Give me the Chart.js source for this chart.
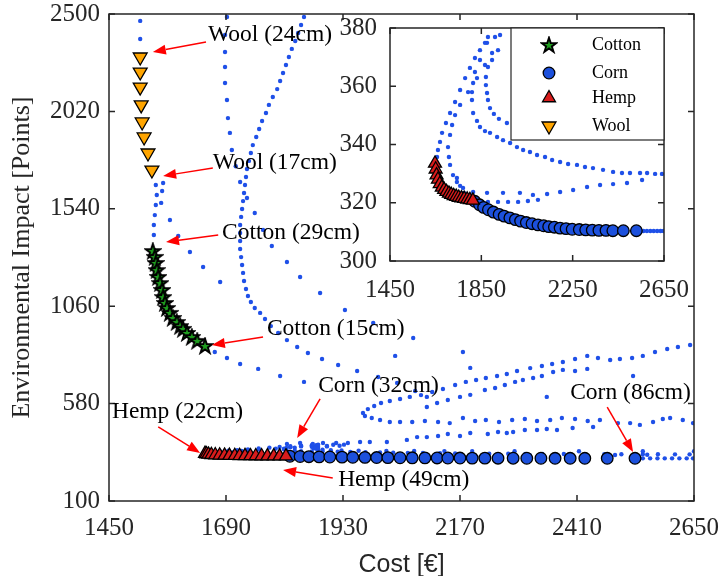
<!DOCTYPE html>
<html>
<head>
<meta charset="utf-8">
<script src="https://cdn.jsdelivr.net/npm/chart.js@4.4.0/dist/chart.umd.min.js"></script>
<style>
  html, body { margin: 0; padding: 0; background: #fff; }
  #quadro { position: relative; width: 725px; height: 576px; }
  #quadro canvas { position: absolute; left: 0; top: 0; }
</style>
</head>
<body>
<div id="quadro">
  <canvas id="grafico" width="725" height="576"></canvas>
  <canvas id="detalhe" width="725" height="576"></canvas>
</div>
<script>
// ticks dos eixos
const custoTicks = [1450, 1690, 1930, 2170, 2410, 2650];
const impactoTicks = [100, 580, 1060, 1540, 2020, 2500];
const custoTicksDetalhe = [1450, 1850, 2250, 2650];
const impactoTicksDetalhe = [300, 320, 340, 360, 380];

// melhores soluções por material [custo, impacto]
const cotton = [[1540,1332],[1544,1303],[1546,1273],[1548,1238],[1551,1204],[1555,1174],[1559,1140],[1561,1105],
  [1565,1076],[1569,1051],[1575,1027],[1581,1002],[1589,982],[1596,962],[1602,948],[1610,928],[1620,908],[1631,889],[1647,864]];
const corn = [[1821,320.5],[1842,319.3],[1860,318.4],[1881,317.6],[1903,316.8],[1928,316.0],[1950,315.4],[1975,314.8],
  [1999,314.2],[2022,313.7],[2047,313.2],[2072,312.8],[2098,312.4],[2123,312.1],[2145,311.8],[2170,311.6],[2195,311.3],
  [2221,311.1],[2248,310.9],[2279,310.8],[2307,310.7],[2336,310.6],[2365,310.5],[2396,310.5],[2426,310.4],[2472,310.4],[2529,310.4]];
const hemp = [[1647,333.5],[1650,331.5],[1654,329.5],[1660,328],[1668,326.5],[1677,325.3],[1687,324.5],[1697,323.8],
  [1708,323.2],[1718,322.8],[1729,322.4],[1740,322.1],[1751,321.8],[1763,321.6],[1775,321.4],[1788,321.2],[1800,321.0],[1813,320.8]];
const wool = [[1514,2288],[1514,2214],[1514,2140],[1516,2052],[1518,1968],[1522,1894],[1530,1815],[1538,1731]];

// demais soluções (pontos azuis)
const frenteLa = [[1514,2466],[1514,2377],[1546,1657],[1548,1608],[1546,1559],[1544,1509],[1542,1460],[1542,1411],
  [1667,834],[1692,805],[1719,775],[1756,751],[1801,716],[1850,687]];
const ramoLa = [[1561,1667],[1559,1628],[1557,1569],[1575,1485],[1592,1406],[1616,1327],[1643,1253],[1678,1179]];
const ramoEsparso = [[1692,2485],[1688,2397],[1688,2313],[1688,2239],[1688,2160],[1692,2076],[1694,1987],[1698,1914],
  [1702,1830],[1710,1750],[1719,1672],[1733,1593],[1749,1519],[1766,1436],[1784,1357],[1815,1278],[1842,1204],
  [1883,1125],[1934,1041],[1992,977],[2074,903],[2176,834]];
const avulsos = [[2037,815],[2191,756],[2348,613],[2525,716]];
const frenteAlgodao = [[1850,2485],[1844,2446],[1838,2406],[1832,2367],[1825,2328],[1819,2288],[1813,2249],[1807,2209],
  [1801,2170],[1795,2130],[1786,2091],[1778,2052],[1772,2012],[1764,1973],[1758,1933],[1752,1894],[1745,1854],
  [1741,1815],[1737,1776],[1733,1736],[1731,1697],[1729,1657],[1727,1618],[1725,1578],[1723,1539],[1721,1500],
  [1719,1460],[1719,1421],[1719,1381],[1719,1342],[1721,1302],[1723,1263],[1725,1224],[1727,1184],[1731,1145],
  [1735,1110],[1741,1081],[1749,1051],[1760,1027],[1770,997],[1782,962],[1797,928],[1815,893],[1836,859],
  [1858,829],[1887,800],[1920,770],[1959,741],[2002,711],[2041,682],[2078,642],[2102,613]];
const ramoAlto = [[1971,534],[1981,553],[1994,568],[2008,583],[2026,593],[2047,603],[2067,613],[2090,622],[2113,637],
  [2135,652],[2160,672],[2182,687],[2203,696],[2223,706],[2246,716],[2266,726],[2287,741],[2314,755],[2338,765],
  [2359,775],[2381,785],[2406,800],[2431,815],[2453,805],[2478,795],[2498,800],[2523,805],[2545,815],[2570,834],
  [2595,849],[2617,859],[2642,869]];
const ramoMedio = [[2102,563],[2123,583],[2145,598],[2170,613],[2191,623],[2221,647],[2242,657],[2262,672],[2283,687],
  [2299,696],[2320,706],[2338,716],[2361,736],[2381,746],[2406,741],[2431,751]];
const faixa500 = [[1975,519],[1989,509],[2006,499],[2026,489],[2047,489],[2072,489],[2098,494],[2125,489],[2149,484],
  [2176,509],[2201,494],[2223,499],[2250,489],[2277,499],[2303,504],[2328,494],[2355,499],[2379,509],[2406,504],
  [2432,494],[2457,499],[2494,484],[2519,484],[2539,475],[2566,489],[2586,504],[2601,509],[2627,499],[2648,484]];
const faixa440 = [[2102,415],[2125,420],[2145,430],[2170,420],[2191,435],[2227,430],[2248,440],[2266,435],[2279,440],
  [2303,450],[2328,450],[2348,455],[2369,450],[2401,460],[2443,465]];
const faixa390 = [[1815,381],[1842,386],[1868,381],[1889,386],[1916,386],[1940,386],[1965,391],[1985,391],[2020,391],
  [2061,401],[2082,415]];
const frenteCanhamo = [[1879,376.9],[1866,374.9],[1844,372.4],[1822,369.7],[1800,366.3],[1779,362.8],[1757,358.7],
  [1735,354.6],[1713,350.8],[1695,347.4],[1678,344.0],[1669,340.9],[1660,338.1],[1656,335.7],
  [2545,310.3],[2560,310.3],[2575,310.3],[2590,310.3],[2605,310.3],[2620,310.3],[2635,310.3],[2648,310.3]];
const curvaB = [[1910,376.9],[1897,371.4],[1866,367.3],[1831,362.8],[1792,358.0],[1757,353.6],[1735,350.1],[1722,346.7],
  [1713,343.3],[1704,339.1],[1708,335.7],[1713,333.0],[1726,329.5],[1743,327.1],[1770,325.1],[1814,323.7],[1875,323.4],
  [1945,323.4],[2019,323.4],[2076,322.7],[2138,323.0],[2195,323.7],[2252,324.4],[2313,325.4],[2370,326.1],[2427,326.4],
  [2488,326.8],[2554,327.8]];
const curvaE = [[1743,328.5],[1757,325.8],[1774,323.4],[1800,321.6],[1835,321.0],[1879,320.3],[1923,320.3],[1967,320.3],
  [2011,320.3],[2054,320.6],[2098,321.0]];
const curvaC = [[1932,377.6],[1923,372.4],[1897,369.0],[1879,366.6],[1870,363.2],[1870,360.4],[1875,357.7],[1879,355.3],
  [1888,352.5],[1905,350.5],[1927,348.8],[1962,347.4],[2019,346.7],[2076,346.4],[2138,346.0],[2195,346.0],[2282,345.7],
  [2414,345.3],[2545,345.0],[2650,345.0]];
const curvaD = [[1875,374.9],[1844,369.0],[1822,364.9],[1814,361.1],[1809,358.0],[1809,355.3],[1814,350.8],[1831,348.1],
  [1844,346.0],[1866,344.6],[1888,344.0],[1919,342.6],[1945,341.5],[1976,340.5],[2006,339.1],[2033,338.1],[2063,337.4],
  [2094,336.4],[2129,335.7],[2160,334.7],[2195,334.0],[2230,333.3],[2269,333.0],[2304,332.3],[2339,331.9],[2383,331.3],
  [2427,330.6],[2466,330.2],[2501,330.2],[2545,330.2],[2576,330.2],[2611,329.9],[2641,329.9]];

// rótulos com seta: texto em [custo, impacto], seta de -> para
const notas = [
  { texto: 'Wool (24cm)', em: [1653, 2397], de: [1649, 2362], para: [1540, 2313] },
  { texto: 'Wool (17cm)', em: [1663, 1766], de: [1663, 1741], para: [1561, 1702] },
  { texto: 'Cotton (29cm)', em: [1682, 1421], de: [1674, 1411], para: [1567, 1376] },
  { texto: 'Cotton (15cm)', em: [1774, 948], de: [1766, 908], para: [1661, 869] },
  { texto: 'Corn (32cm)', em: [1879, 667], de: [1883, 603], para: [1836, 411] },
  { texto: 'Corn (86cm)', em: [2396, 632], de: [2472, 563], para: [2525, 342] },
  { texto: 'Hemp (22cm)', em: [1456, 539], de: [1551, 465], para: [1637, 337] },
  { texto: 'Hemp (49cm)', em: [1920, 203], de: [1909, 213], para: [1807, 253] },
];
const legendaItens = ['Cotton', 'Corn', 'Hemp', 'Wool'];

const pts = lista => lista.map(([x, y]) => ({ x, y }));

function estrela() {
  const c = document.createElement('canvas');
  c.width = 18; c.height = 18;
  const g = c.getContext('2d');
  g.beginPath();
  for (let i = 0; i < 10; i++) {
    const r = i % 2 ? 3.0 : 7.8;
    const a = -Math.PI / 2 + i * Math.PI / 5;
    g.lineTo(9 + r * Math.cos(a), 9.5 + r * Math.sin(a));
  }
  g.closePath();
  g.fillStyle = '#1f9e1f';
  g.fill();
  g.lineWidth = 1.9;
  g.strokeStyle = '#000';
  g.stroke();
  return c;
}
const imgEstrela = estrela();

function nuvem(dados) {
  return { label: '', data: pts(dados), pointStyle: 'circle', pointRadius: 2.2, pointBackgroundColor: '#1f50e8',
    pointBorderWidth: 0, pointHoverRadius: 2.2, order: 5 };
}
function marcador(label, dados, estilo, cor, raio, rot) {
  return { label, data: pts(dados), pointStyle: estilo, pointRadius: raio, pointRotation: rot, pointBackgroundColor: cor,
    pointBorderColor: '#000', pointBorderWidth: 1.3, pointHoverRadius: raio, order: 1 };
}
function conjuntos() {
  return [
    marcador('Cotton', cotton, imgEstrela, '#1f9e1f', 7, 0),
    marcador('Hemp', hemp, 'triangle', '#d81c1c', 7.5, 0),
    marcador('Corn', corn, 'circle', '#1c50dc', 5.8, 0),
    marcador('Wool', wool, 'triangle', '#ffa500', 8, 180),
    ...[frenteLa, ramoLa, ramoEsparso, avulsos, frenteAlgodao, ramoAlto, ramoMedio, faixa500, faixa440, faixa390,
      frenteCanhamo, curvaB, curvaE, curvaC, curvaD].map(nuvem),
  ];
}

const moldura = {
  id: 'moldura',
  afterDatasetsDraw(chart) {
    const { ctx, chartArea: a, scales: { x, y } } = chart;
    ctx.save();
    ctx.strokeStyle = '#262626';
    ctx.lineWidth = 1.5;
    ctx.beginPath();
    x.ticks.forEach(t => {
      const px = x.getPixelForValue(t.value);
      ctx.moveTo(px, a.bottom); ctx.lineTo(px, a.bottom - 6);
      ctx.moveTo(px, a.top); ctx.lineTo(px, a.top + 6);
    });
    y.ticks.forEach(t => {
      const py = y.getPixelForValue(t.value);
      ctx.moveTo(a.left, py); ctx.lineTo(a.left + 6, py);
      ctx.moveTo(a.right, py); ctx.lineTo(a.right - 6, py);
    });
    ctx.stroke();
    ctx.strokeRect(a.left, a.top, a.right - a.left, a.bottom - a.top);
    ctx.restore();
  }
};

const anotacoes = {
  id: 'anotacoes',
  afterDatasetsDraw(chart) {
    const { ctx, scales: { x, y } } = chart;
    ctx.save();
    notas.forEach(n => {
      const x0 = x.getPixelForValue(n.de[0]), y0 = y.getPixelForValue(n.de[1]);
      const x1 = x.getPixelForValue(n.para[0]), y1 = y.getPixelForValue(n.para[1]);
      const ang = Math.atan2(y1 - y0, x1 - x0);
      const ponta = 13, meia = 5;
      const bx = x1 - ponta * Math.cos(ang), by = y1 - ponta * Math.sin(ang);
      ctx.strokeStyle = '#ff0000';
      ctx.fillStyle = '#ff0000';
      ctx.lineWidth = 1.5;
      ctx.beginPath();
      ctx.moveTo(x0, y0);
      ctx.lineTo(bx, by);
      ctx.stroke();
      ctx.beginPath();
      ctx.moveTo(x1, y1);
      ctx.lineTo(bx + meia * Math.sin(ang), by - meia * Math.cos(ang));
      ctx.lineTo(bx - meia * Math.sin(ang), by + meia * Math.cos(ang));
      ctx.closePath();
      ctx.fill();
      ctx.fillStyle = '#000';
      ctx.font = '23.5px "Liberation Serif"';
      ctx.textAlign = 'left';
      ctx.textBaseline = 'middle';
      ctx.fillText(n.texto, x.getPixelForValue(n.em[0]), y.getPixelForValue(n.em[1]));
    });
    ctx.restore();
  }
};

const fundoBranco = {
  id: 'fundoBranco',
  beforeDatasetsDraw(chart) {
    const { ctx, chartArea: a } = chart;
    ctx.save();
    ctx.fillStyle = '#fff';
    ctx.fillRect(a.left, a.top, a.right - a.left, a.bottom - a.top);
    ctx.restore();
  }
};

const legenda = {
  id: 'legenda',
  afterDraw(chart) {
    const { ctx, chartArea: a } = chart;
    const esq = a.right - 153, topo = a.top, alt = 112;
    ctx.save();
    ctx.fillStyle = '#fff';
    ctx.fillRect(esq, topo, a.right - esq, alt);
    ctx.strokeStyle = '#262626';
    ctx.lineWidth = 1.2;
    ctx.strokeRect(esq, topo, a.right - esq, alt);
    const linhas = [17, 45, 70, 98];
    legendaItens.forEach((nome, i) => {
      const ds = chart.data.datasets.find(d => d.label === nome);
      const yy = topo + linhas[i];
      ctx.fillStyle = ds.pointBackgroundColor;
      ctx.strokeStyle = ds.pointBorderColor;
      ctx.lineWidth = ds.pointBorderWidth;
      Chart.helpers.drawPoint(ctx, { pointStyle: ds.pointStyle, rotation: ds.pointRotation, radius: ds.pointRadius,
        borderWidth: ds.pointBorderWidth }, esq + 38, yy);
      ctx.fillStyle = '#000';
      ctx.font = '18px "Liberation Serif"';
      ctx.textAlign = 'left';
      ctx.textBaseline = 'middle';
      ctx.fillText(nome, esq + 81, yy);
    });
    ctx.restore();
  }
};

Chart.defaults.font.family = '"Liberation Serif"';
Chart.defaults.color = '#262626';

// o afastamento dos rótulos vem do tickLength (marcas ocultas), com padding zero
function eixo(min, max, ticks, afastamento, extra) {
  return Object.assign({
    type: 'linear', min, max,
    afterBuildTicks: s => { s.ticks = ticks.map(v => ({ value: v })); },
    grid: { display: false, drawTicks: true, tickLength: afastamento },
    border: { display: false },
  }, extra);
}

const graficoPrincipal = new Chart(document.getElementById('grafico'), {
  type: 'scatter',
  data: { datasets: conjuntos() },
  options: {
    responsive: false,
    animation: false,
    layout: { padding: { left: 0, top: 14, right: 31, bottom: 0 } },
    plugins: { legend: { display: false }, tooltip: { enabled: false } },
    scales: {
      x: eixo(1450, 2650, custoTicks, 15, {
        afterFit: s => { s.height = 75; },
        ticks: { padding: 0, maxRotation: 0, minRotation: 0, autoSkip: false, font: { size: 25, lineHeight: 1 },
          callback: v => String(v) },
        title: { display: true, text: 'Cost [€]', font: { family: '"Liberation Sans"', size: 25, lineHeight: 1 },
          padding: { top: 0, bottom: -2 } },
      }),
      y: eixo(100, 2500, impactoTicks, 9, {
        afterFit: s => { s.width = 109; },
        ticks: { padding: 0, autoSkip: false, font: { size: 25, lineHeight: 1 }, callback: v => String(v) },
        title: { display: true, text: 'Environmental Impact [Points]', font: { size: 26 }, padding: { top: 7, bottom: 0 } },
      }),
    },
  },
  plugins: [moldura, anotacoes],
});

const graficoDetalhe = new Chart(document.getElementById('detalhe'), {
  type: 'scatter',
  data: { datasets: conjuntos() },
  options: {
    responsive: false,
    animation: false,
    layout: { padding: { left: 330, top: 28, right: 61, bottom: 266 } },
    plugins: { legend: { display: false }, tooltip: { enabled: false } },
    scales: {
      x: eixo(1450, 2650, custoTicksDetalhe, 17, {
        afterFit: s => { s.height = 49; },
        ticks: { padding: 0, maxRotation: 0, minRotation: 0, autoSkip: false, font: { size: 25, lineHeight: 1 },
          callback: v => String(v) },
      }),
      y: eixo(300, 380, impactoTicksDetalhe, 13, {
        afterFit: s => { s.width = 60; },
        ticks: { padding: 0, autoSkip: false, font: { size: 25, lineHeight: 1 }, callback: v => String(v) },
      }),
    },
  },
  plugins: [fundoBranco, moldura, legenda],
});
</script>
</body>
</html>
